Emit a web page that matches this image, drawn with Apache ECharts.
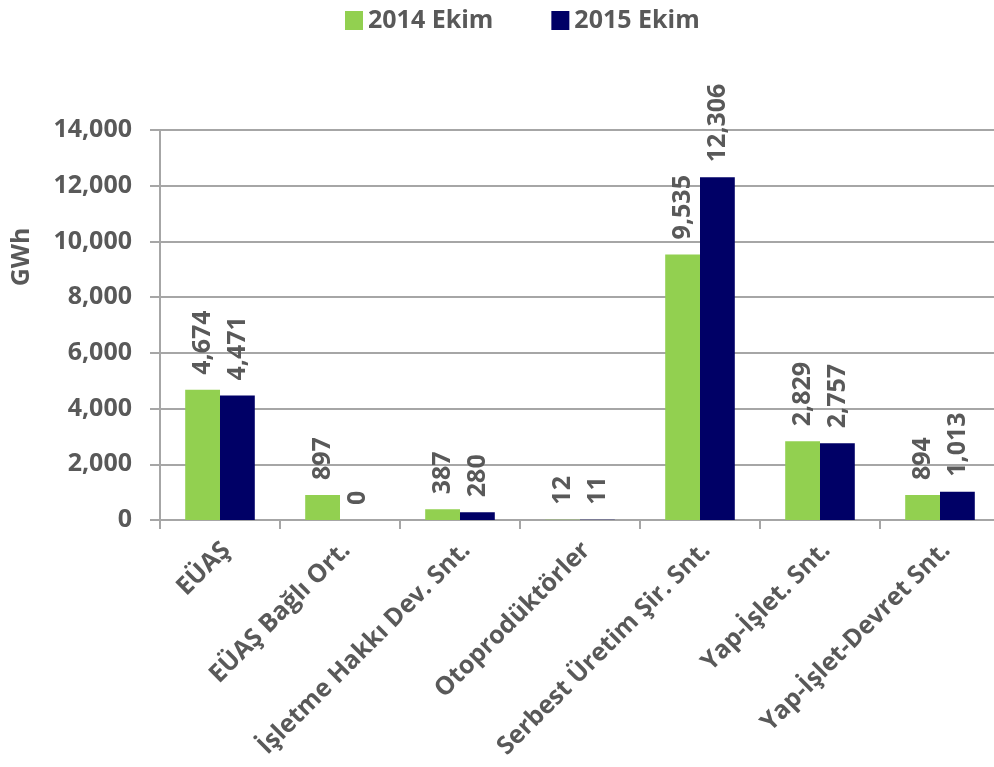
<!DOCTYPE html>
<html>
<head>
<meta charset="utf-8">
<script src="https://cdn.jsdelivr.net/npm/echarts@6/dist/echarts.min.js"></script>
<style>html,body{margin:0;padding:0;background:#fff}#c{width:994px;height:767px}</style>
</head>
<body>
<div id="c"></div>
<script>
var categories = ['EÜAŞ', 'EÜAŞ Bağlı Ort.', 'İşletme Hakkı Dev. Snt.', 'Otoprodüktörler', 'Serbest Üretim Şir. Snt.', 'Yap-İşlet. Snt.', 'Yap-İşlet-Devret Snt.'];
var series2014 = [4674, 897, 387, 12, 9535, 2829, 894];
var series2015 = [4471, 0, 280, 11, 12306, 2757, 1013];
var seriesNames = ['2014 Ekim', '2015 Ekim'];
var yAxisTitle = 'GWh';

var FONT = '"Open Sans", "DejaVu Sans", sans-serif';
var GRAY = '#595959';
var chart = echarts.init(document.getElementById('c'));
function fmt(v) { return Number(v).toLocaleString('en-US'); }
var labelCfg = {
  show: true, position: 'top', rotate: 90, align: 'left', verticalAlign: 'middle',
  distance: 15, color: GRAY, fontFamily: FONT, fontWeight: 'bold', fontSize: 25,
  formatter: function (p) { return fmt(p.value); }
};
chart.setOption({
  animation: false,
  legend: {
    top: 3, left: 340, itemWidth: 18, itemHeight: 19, itemGap: 58,
    icon: 'rect',
    textStyle: { color: GRAY, fontFamily: FONT, fontWeight: 'bold', fontSize: 25 },
    data: seriesNames
  },
  graphic: [{
    type: 'text', x: 22, y: 257, rotation: Math.PI / 2,
    style: { text: yAxisTitle, fill: GRAY, font: 'bold 25px ' + FONT, textAlign: 'center', textVerticalAlign: 'middle' }
  }],
  grid: { left: 160, width: 840, top: 130, height: 390, containLabel: false, outerBoundsMode: 'none' },
  xAxis: {
    type: 'category', data: categories,
    axisLine: { lineStyle: { color: '#A6A6A6', width: 2 } },
    axisTick: { show: true, length: 9, lineStyle: { color: '#A6A6A6', width: 2 } },
    axisLabel: { rotate: 45, interval: 0, margin: 20, verticalAlign: 'top', lineHeight: 18, color: GRAY, fontFamily: FONT, fontWeight: 'bold', fontSize: 25 }
  },
  yAxis: {
    type: 'value', min: 0, max: 14000, interval: 2000,
    axisLine: { show: true, lineStyle: { color: '#A6A6A6', width: 2 } },
    axisTick: { show: true, length: 10, lineStyle: { color: '#A6A6A6', width: 2 } },
    splitLine: { lineStyle: { color: '#A6A6A6', width: 2 } },
    axisLabel: { margin: 28, color: GRAY, fontFamily: FONT, fontWeight: 'bold', fontSize: 25, formatter: fmt }
  },
  series: [
    { name: seriesNames[0], type: 'bar', data: series2014, barGap: '0%', barCategoryGap: '42%', itemStyle: { color: '#92D050' }, label: labelCfg },
    { name: seriesNames[1], type: 'bar', data: series2015, barGap: '0%', barCategoryGap: '42%', itemStyle: { color: '#000066' }, label: labelCfg }
  ]
});
</script>
</body>
</html>
